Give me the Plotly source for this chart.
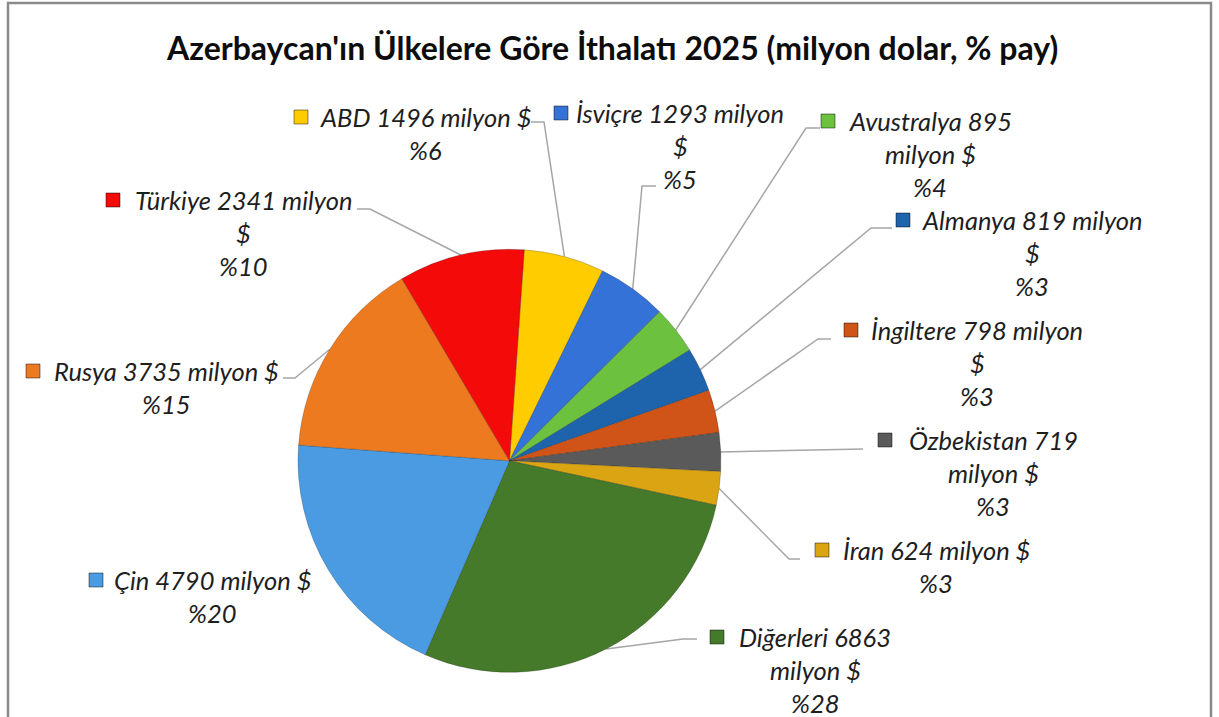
import math
import plotly.graph_objects as go

# ---------------- data ----------------
countries = ["ABD", "İsviçre", "Avustralya", "Almanya", "İngiltere", "Özbekistan",
             "İran", "Diğerleri", "Çin", "Rusya", "Türkiye"]
values = [1496, 1293, 895, 819, 798, 719, 624, 6863, 4790, 3735, 2341]
title_text = "Azerbaycan'ın Ülkelere Göre İthalatı 2025 (milyon dolar, % pay)"

# ---------------- style / layout ----------------
colors = ["#FFCC00", "#3572D8", "#6CC13F", "#1E64AC", "#D05418", "#5A5A5A",
          "#DAA412", "#457A2A", "#4A9BE2", "#EE7A20", "#F50A0A"]
# wrap mode: 0 -> "name value milyon $" / pct ; 1 -> break before "$" ; 2 -> break before "milyon $"
wrap = [0, 1, 2, 1, 1, 2, 0, 2, 0, 0, 1]
# label block centre x, first-line y, marker x (pixels)
label_cx = [425, 680, 930, 1032, 977, 993, 936, 815, 212, 166, 243]
label_y = [117, 113, 121, 220, 330, 440, 550, 637, 580, 371, 200]
marker_x = [301, 561, 828, 903, 851, 885, 822, 717, 96, 33, 113]
# leader elbows / ends (None = no leader)
elbow = [(544, 122), (642, 186), (806, 128), (871, 228), (818, 339), (863, 449),
         (789, 559), (683, 639), None, (295, 378), (370, 209)]
lend = [(531, 122), (656, 186), (820, 128), (892, 228), (831, 339), (863, 449),
        (800, 559), (697, 639), None, (283, 378), (357, 209)]

W, H = 1219, 717
CX, CY, R = 509.5, 460.8, 211.5
ROT = 4.0
LINE_H = 33
FONT = "Lato"
TXT = "#1E1E1E"

total = sum(values)

fig = go.Figure()

# pie
fig.add_trace(go.Pie(
    labels=countries, values=values, sort=False, direction="clockwise",
    rotation=ROT, textinfo="none", hoverinfo="label+value+percent",
    marker=dict(colors=colors, line=dict(color="rgba(0,0,0,0.25)", width=0.8)),
    domain=dict(x=[(CX - R) / W, (CX + R) / W],
                y=[(H - CY - R) / H, (H - CY + R) / H]),
    showlegend=False,
))

# leader lines (anchor on pie edge from slice mid-angle)
cum = 0
for i, v in enumerate(values):
    mid = ROT + (cum + v / 2) / total * 360
    cum += v
    if elbow[i] is None:
        continue
    a = math.radians(mid)
    px = CX + R * math.sin(a)
    py = CY - R * math.cos(a)
    fig.add_trace(go.Scatter(
        x=[px, elbow[i][0], lend[i][0]], y=[py, elbow[i][1], lend[i][1]],
        mode="lines", line=dict(color="#A6A6A6", width=1.5),
        hoverinfo="skip", showlegend=False))

# legend-key squares
fig.add_trace(go.Scatter(
    x=marker_x, y=label_y, mode="markers",
    marker=dict(symbol="square", size=14, color=colors,
                line=dict(color="rgba(0,0,0,0.45)", width=1)),
    hoverinfo="skip", showlegend=False))

annotations = []
for i, (name, v) in enumerate(zip(countries, values)):
    pct = f"%{round(v / total * 100)}"
    if wrap[i] == 0:
        lines = [f"{name} {v} milyon $", pct]
    elif wrap[i] == 1:
        lines = [f"{name} {v} milyon", "$", pct]
    else:
        lines = [f"{name} {v}", "milyon $", pct]
    for k, ln in enumerate(lines):
        annotations.append(dict(
            x=label_cx[i], y=label_y[i] + k * LINE_H, xref="x", yref="y",
            text=f"<i>{ln}</i>", showarrow=False, xanchor="center", yanchor="middle",
            font=dict(family=FONT, size=25.5, color=TXT)))

annotations.append(dict(
    x=612, y=47, xref="x", yref="y", text=f"<b>{title_text}</b>", showarrow=False,
    xanchor="center", yanchor="middle",
    font=dict(family=FONT, size=32, color="#0D0D0D")))

fig.update_layout(
    width=W, height=H, margin=dict(l=0, r=0, t=0, b=0),
    paper_bgcolor="white", plot_bgcolor="rgba(0,0,0,0)",
    xaxis=dict(range=[0, W], visible=False, fixedrange=True, domain=[0, 1]),
    yaxis=dict(range=[H, 0], visible=False, fixedrange=True, domain=[0, 1]),
    annotations=annotations,
    shapes=[dict(type="rect", xref="x", yref="y", x0=8, y0=3, x1=1211, y1=730,
                 line=dict(color="#8A8A8A", width=2.5), fillcolor="rgba(0,0,0,0)")],
)

fig.write_html("out.html", config={"displayModeBar": False},
               post_script="document.body.style.margin='0';document.body.style.overflow='hidden';")
